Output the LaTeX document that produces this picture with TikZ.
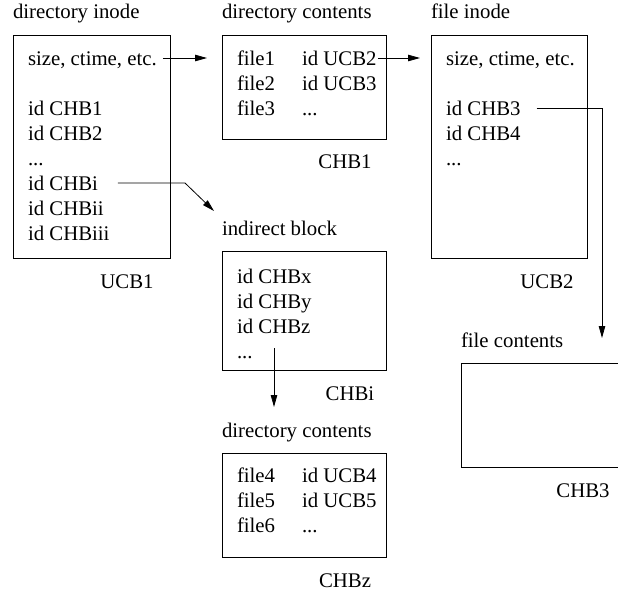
\documentclass[tikz,border=0pt]{standalone}
\usepackage{fontspec}
\setmainfont{Liberation Serif}
\usetikzlibrary{arrows.meta}
\begin{document}
\begin{tikzpicture}[x=1pt,y=-1pt,
  every node/.style={inner sep=0pt,outer sep=0pt,font=\fontsize{20.8}{25}\selectfont},
  txt/.style={anchor=base west},
  lbl/.style={anchor=base},
  box/.style={draw,line width=0.9pt,anchor=north west},
  arr/.style={line width=0.8pt,-{Triangle[length=12pt,width=6.5pt]}}]
\useasboundingbox (0,0) rectangle (618,592);
\begin{scope}
\clip (0,0) rectangle (618,592);
% boxes
\node[box,minimum width=157pt,minimum height=223pt] (ucb1) at (13,35) {};
\node[box,minimum width=164pt,minimum height=104pt] (dc1) at (222,35) {};
\node[box,minimum width=156pt,minimum height=223pt] (ucb2) at (431,35) {};
\node[box,minimum width=164pt,minimum height=119pt] (ib) at (222,251) {};
\node[box,minimum width=164pt,minimum height=104pt] (dc2) at (222,453) {};
\node[box,minimum width=200pt,minimum height=104pt] (fc) at (461,363) {};
% titles
\node[txt] (t1) at (13,18.5) {directory inode};
\node[txt] (t2) at (222,18.5) {directory contents};
\node[txt] (t3) at (431,18.5) {file inode};
\node[txt] (t4) at (222,235) {indirect block};
\node[txt] (t5) at (222,437) {directory contents};
\node[txt] (t6) at (461,347) {file contents};
% ids
\node[lbl] (l1) at (127,288) {UCB1};
\node[lbl] (l2) at (345,168) {CHB1};
\node[lbl] (l3) at (547,288) {UCB2};
\node[lbl] (l4) at (350,400) {CHBi};
\node[lbl] (l5) at (345,587) {CHBz};
\node[lbl] (l6) at (583,497) {CHB3};
% directory inode contents
\node[txt] (s1) at (28,65) {size, ctime, etc.};
\node[txt] (a1) at (28,115) {id CHB1};
\node[txt] (a2) at (28,140) {id CHB2};
\node[txt] (a3) at (28,165) {...};
\node[txt] (ai) at (28,190) {id CHBi};
\node[txt] (aii) at (28,215) {id CHBii};
\node[txt] (aiii) at (28,240) {id CHBiii};
% directory contents 1
\node[txt] (f1) at (237,65) {file1};
\node[txt] (f2) at (237,90) {file2};
\node[txt] (f3) at (237,115) {file3};
\node[txt] (u2) at (302,65) {id UCB2};
\node[txt] (u3) at (302,90) {id UCB3};
\node[txt] (u0) at (302,115) {...};
% file inode
\node[txt] (s2) at (446,65) {size, ctime, etc.};
\node[txt] (b3) at (446,115) {id CHB3};
\node[txt] (b4) at (446,140) {id CHB4};
\node[txt] (b0) at (446,165) {...};
% indirect block
\node[txt] (x1) at (237,283) {id CHBx};
\node[txt] (x2) at (237,308) {id CHBy};
\node[txt] (x3) at (237,333) {id CHBz};
\node[txt] (x4) at (237,358) {...};
% directory contents 2
\node[txt] (f4) at (237,482) {file4};
\node[txt] (f5) at (237,507) {file5};
\node[txt] (f6) at (237,532) {file6};
\node[txt] (u4) at (302,482) {id UCB4};
\node[txt] (u5) at (302,507) {id UCB5};
\node[txt] (u6) at (302,532) {...};
% connectors
\draw[arr,shorten >=15pt] ([xshift=6pt,yshift=7pt]s1.base east) coordinate (p1) -- (p1 -| dc1.west);
\draw[arr,shorten >=11pt] ([xshift=1.5pt,yshift=7pt]u2.base east) coordinate (p2) -- (p2 -| ucb2.west);
\coordinate (c3) at (602,108);
\draw[arr,shorten >=25pt] ([xshift=16pt]b3.base east |- c3) -- (c3) -- (c3 |- fc.north);
\coordinate (c4) at (185,183);
\coordinate (e4) at (214,211);
\draw[arr] ([xshift=20pt]ai.base east |- c4) -- (c4) -- (e4);
\coordinate (p5) at (274,348);
\draw[arr,shorten >=46pt] (p5) -- (p5 |- dc2.north);
\end{scope}
\end{tikzpicture}
\end{document}
